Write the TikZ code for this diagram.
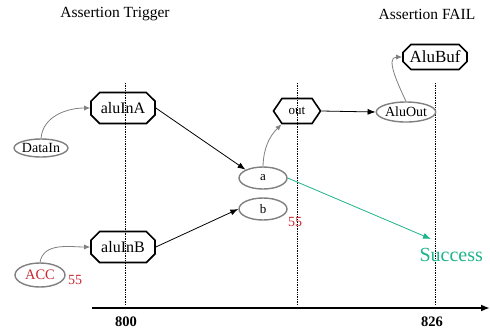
\documentclass[tikz,border=0pt]{standalone}
\usepackage{fontspec}
\setmainfont{Liberation Serif}
\usetikzlibrary{shapes.misc,shapes.symbols,shapes.geometric,arrows.meta}
\definecolor{ringgray}{RGB}{128,128,128}
\definecolor{accred}{RGB}{200,40,50}
\definecolor{succ}{RGB}{30,180,140}
\begin{document}
\begin{tikzpicture}[x=1pt,y=-1pt,
  octbox/.style={chamfered rectangle, chamfered rectangle xsep=8pt, chamfered rectangle ysep=3pt,
     draw=black, line width=1.6pt, inner sep=0pt, minimum width=64pt, minimum height=31pt, font=\fontsize{16}{16}\selectfont},
  ringnode/.style={ellipse, draw=ringgray, line width=1.4pt, inner sep=0pt},
  hexbox/.style={signal, signal to=east and west, signal pointer angle=112, draw=black, line width=1.6pt,
     inner sep=0pt, minimum width=47pt, minimum height=25pt, font=\fontsize{13}{13}\selectfont},
  grayarrow/.style={draw=ringgray, line width=0.8pt, -{Latex[length=6pt,width=5pt]}},
  blackarrow/.style={draw=black, line width=0.8pt, -{Latex[length=8pt,width=6pt]}},
  timeline/.style={draw=black, densely dotted, line width=0.7pt},
  redlbl/.style={text=accred, font=\fontsize{14}{14}\selectfont},
  ticklbl/.style={font=\fontsize{14.5}{14.5}\selectfont\bfseries},
  titlelbl/.style={font=\fontsize{15.5}{15.5}\selectfont}
]
\useasboundingbox (0,0) rectangle (490,330);
\fill[white] (0,0) rectangle (490,330);

% titles
\node[titlelbl] (t1) at (115,14) {Assertion Trigger};
\node[titlelbl] (t2) at (427,14) {Assertion FAIL};

% time lines
\coordinate (v1t) at (125,83); \coordinate (v1b) at (125,305);
\coordinate (v2t) at (297,83); \coordinate (v2b) at (297,305);
\coordinate (v3t) at (435,83); \coordinate (v3b) at (435,305);
\draw[timeline] (v1t) -- (v1b);
\draw[timeline] (v2t) -- (v2b);
\draw[timeline] (v3t) -- (v3b);

% axis
\coordinate (ax0) at (92,308); \coordinate (ax1) at (490,308);
\draw[line width=1.8pt, -{Latex[length=9pt,width=7pt]}] (ax0) -- (ax1);
\node[ticklbl] (n800) at (126,322) {800};
\node[ticklbl] (n826) at (432,322) {826};

% nodes
\node[octbox] (aluInA) at (123,108) {aluInA};
\node[octbox] (aluInB) at (123,247) {aluInB};
\node[octbox, minimum height=25pt, chamfered rectangle ysep=2pt, font=\fontsize{17}{17}\selectfont] (AluBuf) at (435,57) {AluBuf};
\node[ringnode, minimum width=50pt, minimum height=18pt, font=\fontsize{14}{14}\selectfont] (DataIn) at (41,148) {DataIn};
\node[ringnode, minimum width=50pt, minimum height=24pt, font=\fontsize{14.5}{14.5}\selectfont, text=accred] (ACC) at (40,275) {ACC};
\node[redlbl] (acc55) at (75,280) {55};
\node[ringnode, minimum width=48pt, minimum height=22pt, font=\fontsize{13}{13}\selectfont] (a) at (263,178) {a};
\node[ringnode, minimum width=48pt, minimum height=22pt, font=\fontsize{13}{13}\selectfont] (b) at (263,209) {b};
\node[redlbl] (b55) at (295,222) {55};
\node[hexbox] (out) at (297,111) {out};
\node[ringnode, minimum width=47pt, minimum height=20pt, font=\fontsize{14}{14}\selectfont] (AluOut) at (406,112) {AluOut};
\node[text=succ, font=\fontsize{20}{20}\selectfont, anchor=west] (Success) at (416,255) {Success};
\coordinate (succtip) at (431,239);

% connectors
\draw[grayarrow] (DataIn.north) to[out=85,in=180] (aluInA.west);
\draw[grayarrow] (ACC.north) to[out=80,in=180] (aluInB.west);
\draw[grayarrow] (a.north) to[out=88,in=225] (out.south west);
\draw[grayarrow] (AluOut.north) to[out=115,in=180] (AluBuf.west);
\draw[blackarrow] (aluInA.east) -- (a.north west);
\draw[blackarrow] (aluInB.east) -- (b.west);
\draw[blackarrow] (out.east) -- (AluOut.west);
\draw[draw=succ, line width=0.8pt, -{Latex[length=8pt,width=6pt]}] (a.east) -- (succtip);
\end{tikzpicture}
\end{document}
